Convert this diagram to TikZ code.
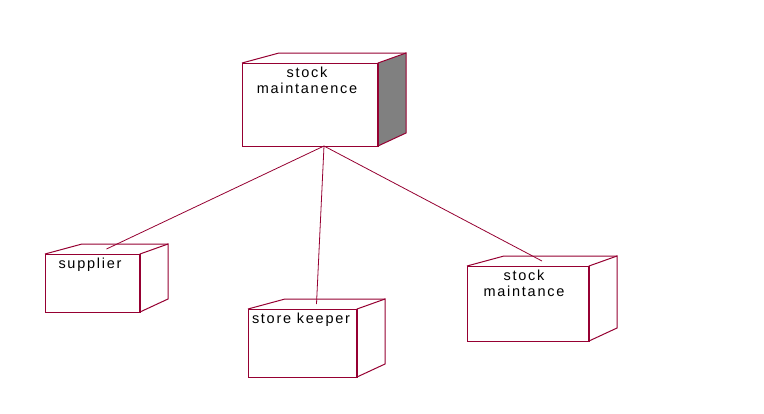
\documentclass[tikz,border=0pt]{standalone}
\usepackage{fontspec}
\setmainfont{Liberation Sans}[LetterSpace=12]
\usetikzlibrary{calc}
\definecolor{nodeline}{RGB}{150,0,50}
\definecolor{nodeshade}{RGB}{128,128,128}
\tikzset{
  front/.style={draw=nodeline, line width=1pt, inner sep=0pt, outer sep=0pt},
  nodetext/.style={anchor=north, inner sep=0pt, align=center, font=\fontsize{14.5}{16}\selectfont},
  link/.style={draw=nodeline, line width=0.8pt}
}
% side and top of a node box
\newcommand{\boxdepth}[2][white]{
  \filldraw[fill=#1, draw=nodeline, line width=1pt] (#2.north east) -- ++(28,-10)
    -- ($(#2.south east)+(28,-13)$) -- (#2.south east) -- cycle;
  \draw[nodeline, line width=1pt] (#2.north west) -- ++(37,-10) -- ($(#2.north east)+(28,-10)$);
  \draw[nodeline, line width=1.8pt] (#2.north east) -- (#2.south east);
}
\begin{document}
\begin{tikzpicture}[x=1pt, y=-1pt]
  \useasboundingbox[fill=white] (0,0) rectangle (764,413);

  \node[front, minimum width=136, minimum height=83] (stock) at (310,104.5) {};
  \node[front, minimum width=95, minimum height=58] (supplier) at (92.5,283) {};
  \node[front, minimum width=109, minimum height=68] (keeper) at (302.5,343) {};
  \node[front, minimum width=122, minimum height=75] (maint) at (528,303.5) {};

  \boxdepth[nodeshade]{stock}
  \boxdepth{supplier}
  \boxdepth{keeper}
  \boxdepth{maint}

  \node[nodetext] (stocktext) at ($(stock.north)+(-3,4.2)$) {stock\\maintanence};
  \node[nodetext] (suppliertext) at ($(supplier.north)+(-2.5,3.4)$) {supplier};
  \node[nodetext] (keepertext) at ($(keeper.north)+(-1.5,3.4)$) {store keeper};
  \node[nodetext] (mainttext) at ($(maint.north)+(-4,4)$) {stock\\maintance};

  \draw[link] ($(stock.south)+(14,0)$) -- ($(supplier.north)+(14,-5)$);
  \draw[link] ($(stock.south)+(14,0)$) -- ($(keeper.north)+(14,-5)$);
  \draw[link] ($(stock.south)+(14,0)$) -- ($(maint.north)+(14,-5)$);
\end{tikzpicture}
\end{document}
